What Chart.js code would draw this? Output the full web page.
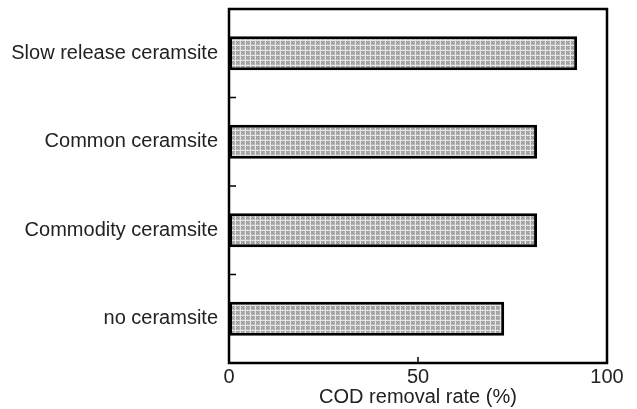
<!DOCTYPE html>
<html><head><meta charset="utf-8">
<script src="https://cdn.jsdelivr.net/npm/chart.js@4"></script>
<style>html,body{margin:0;padding:0;background:#fff}#wrap{width:637px;height:409px}</style>
</head><body><div id="wrap"><canvas id="c" width="637" height="409"></canvas></div>
<script>
const categories = ["Slow release ceramsite", "Common ceramsite", "Commodity ceramsite", "no ceramsite"];
const removalRate = [92.1, 81.5, 81.5, 72.8];
const xTicks = [0, 50, 100];
const xTitle = "COD removal rate (%)";

function makePattern() {
  const p = document.createElement('canvas');
  p.width = 5; p.height = 5;
  const g = p.getContext('2d');
  g.fillStyle = '#b4b4b4'; g.fillRect(0, 0, 5, 5);
  g.fillStyle = '#959595';
  g.fillRect(1, 1, 1, 1); g.fillRect(3, 1, 1, 1); g.fillRect(2, 2, 1, 1);
  g.fillRect(1, 3, 1, 1); g.fillRect(3, 3, 1, 1);
  g.fillStyle = '#e6e6e6';
  g.fillRect(0, 0, 5, 1);
  g.fillRect(0, 0, 1, 5);
  return document.getElementById('c').getContext('2d').createPattern(p, 'repeat');
}

const frame = {
  id: 'frame',
  afterDatasetsDraw(chart) {
    const {ctx, chartArea: a, scales} = chart;
    ctx.save();
    ctx.strokeStyle = '#000';
    ctx.lineWidth = 1.5;
    xTicks.forEach(v => {
      const x = scales.x.getPixelForValue(v);
      ctx.beginPath(); ctx.moveTo(x, a.bottom); ctx.lineTo(x, a.bottom - 6); ctx.stroke();
    });
    for (let i = 0; i < categories.length - 1; i++) {
      const y = (scales.y.getPixelForValue(i) + scales.y.getPixelForValue(i + 1)) / 2;
      ctx.beginPath(); ctx.moveTo(a.left, y); ctx.lineTo(a.left + 7, y); ctx.stroke();
    }
    ctx.lineWidth = 2.5;
    ctx.strokeRect(a.left, a.top, a.right - a.left, a.bottom - a.top);
    ctx.restore();
  }
};

const font = {family: 'Liberation Sans', size: 20};

new Chart(document.getElementById('c'), {
  type: 'bar',
  data: {
    labels: categories,
    datasets: [{
      data: removalRate,
      backgroundColor: makePattern(),
      borderColor: '#000',
      borderWidth: 3,
      borderSkipped: false,
      barPercentage: 0.385,
      categoryPercentage: 1
    }]
  },
  options: {
    indexAxis: 'y',
    responsive: false,
    animation: false,
    layout: {autoPadding: false, padding: {top: 9, right: 30, left: 0, bottom: 0}},
    plugins: {legend: {display: false}, tooltip: {enabled: false}},
    scales: {
      x: {
        min: 0, max: 100,
        afterBuildTicks(s) { s.ticks = xTicks.map(v => ({value: v})); },
        afterFit(s) { s.height = 46; s.paddingLeft = 0; s.paddingRight = 0; },
        grid: {display: false, drawTicks: false},
        border: {display: false},
        ticks: {color: '#222', font, padding: 2, maxRotation: 0},
        title: {display: true, text: xTitle, color: '#222', font, padding: {top: 0, bottom: 0}}
      },
      y: {
        afterFit(s) { s.width = 229; s.paddingTop = 0; s.paddingBottom = 0; },
        grid: {display: false, drawTicks: false},
        border: {display: false},
        ticks: {color: '#222', font, padding: 11}
      }
    }
  },
  plugins: [frame]
});
</script></body></html>
